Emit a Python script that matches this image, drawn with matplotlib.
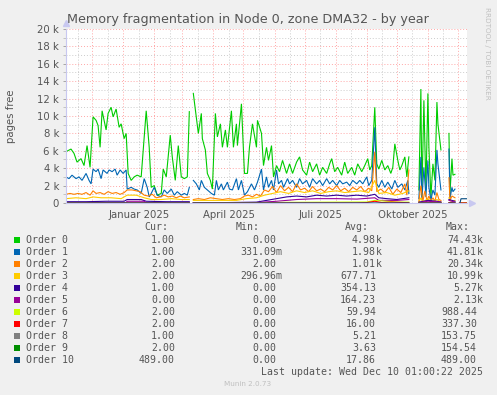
import numpy as np
import matplotlib
matplotlib.use('Agg')
import matplotlib.pyplot as plt
from matplotlib.ticker import FixedLocator, FixedFormatter

NaN = float('nan')
START = np.datetime64('2024-11-05')
SPAN = 400  # days shown

# ---------------- data (values in thousands of pages, x in days since START) ----------------
o0_days = [0,5,8,11,15,18,21,24,27,30,32,34,36,40,42,45,47,50,53,55,58,60,62,65,68,71,75,78,80,83,85,88,91,95,97,100,
           104,106,109,112,115,118,121,123,125,127,130,132,135,136,139,141,144,146,149,151,154,156,159,161,165,167,170,171,
           175,178,181,183,186,190,191,195,197,200,202,205,207,210,213,216,220,223,226,230,233,236,240,243,246,250,253,256,
           260,263,265,268,271,275,278,281,285,288,291,295,298,301,303,305,308,310,312,315,318,321,324,326,328,331,333,335,
           338,340,342,346,352,354,355,357,359,361,362,364,366,368,370,371,374,378,382,383,385,386,388,391,393,400]
o0_vals = [5.9,6.2,5.7,4.7,5.1,4.3,6.6,4.1,9.9,9.5,8.9,6.4,10.6,8.4,10.3,11.0,9.9,10.8,8.7,9.1,7.4,8.0,3.4,2.6,3.0,3.2,3.0,7.6,
           10.6,6.4,1.8,2.0,0.9,1.1,3.9,3.0,7.8,5.3,2.6,6.6,3.0,2.8,3.0,10.5,NaN,12.6,9.9,8.0,10.3,7.4,6.1,3.4,2.6,1.6,10.3,
           7.6,9.1,6.4,8.4,6.4,10.6,6.4,9.1,6.6,11.4,3.4,3.4,6.4,9.1,6.4,9.5,8.0,4.3,6.4,4.9,6.6,3.0,4.3,3.6,4.9,3.4,4.5,3.4,
           4.7,5.3,3.8,3.2,4.7,3.6,4.5,3.2,4.1,3.4,4.5,5.1,3.6,4.1,3.2,4.7,3.4,4.1,3.2,4.5,3.6,4.3,5.1,3.8,4.3,11.0,4.5,3.9,
           4.9,3.8,4.3,3.4,4.1,6.8,4.9,3.8,4.3,5.3,3.0,5.3,NaN,1.5,13.1,0.7,11.8,1.5,12.6,6.4,0.7,4.5,2.6,11.6,9.1,6.1,NaN,
           8.0,1.1,5.1,3.2,3.3,NaN,0.001,0.001]

o1_days = [0,3,6,10,13,16,20,23,25,27,30,32,35,37,41,43,46,49,51,54,57,60,61,65,68,71,75,78,81,83,85,88,91,95,98,101,105,
           108,111,115,118,121,123,125,127,130,133,135,138,141,145,148,150,152,155,157,161,163,166,170,172,175,178,181,185,
           188,191,195,197,200,202,205,207,210,212,215,217,221,223,226,230,233,236,240,243,246,250,253,256,260,263,266,270,
           273,276,280,283,286,290,293,296,300,302,305,308,310,312,315,318,321,325,328,331,335,338,341,342,346,352,354,355,
           357,359,361,362,364,366,368,370,371,374,378,382,383,385,386,388,391,393,400]
o1_vals = [3.0,2.8,3.2,2.8,3.0,2.6,3.4,2.6,2.2,3.9,3.6,3.9,2.8,3.8,3.4,3.8,3.6,3.9,3.2,3.8,3.4,3.8,1.6,1.8,1.6,1.5,1.1,2.8,
           1.8,0.7,1.1,1.8,0.9,0.7,1.5,1.1,1.6,0.9,1.3,0.9,1.1,0.9,1.8,NaN,2.6,2.2,1.5,2.6,1.8,1.5,1.1,0.9,2.6,1.5,2.2,1.5,
           2.4,1.6,1.5,2.8,1.5,2.6,0.9,1.3,2.2,1.5,2.4,3.9,1.5,3.0,1.8,2.6,1.5,3.8,2.2,2.6,1.8,2.8,2.2,2.6,1.8,2.8,2.2,2.6,
           1.8,2.8,2.2,2.6,2.0,2.8,2.2,2.6,2.0,2.6,2.2,2.4,2.0,2.6,2.2,2.6,2.2,3.0,2.0,2.6,8.7,2.2,1.8,2.6,1.8,2.4,1.6,2.6,
           1.8,2.2,1.5,2.6,1.1,NaN,0.5,5.3,0.3,4.1,0.7,4.9,1.8,0.3,1.5,0.9,6.1,4.5,1.5,NaN,6.2,0.5,1.8,1.3,1.6,NaN,0.001,
           0.001]

o2_days = [0,4,8,12,16,20,24,27,30,34,38,42,46,50,54,58,61,66,70,74,78,82,86,90,94,98,102,106,110,114,118,123,125,127,132,
           138,144,150,156,162,168,174,178,182,186,190,194,198,202,206,210,214,218,222,226,230,234,238,242,246,250,254,258,
           262,266,270,274,278,282,286,290,294,298,302,305,308,310,314,318,322,326,330,334,338,340,342,346,352,354,356,358,
           360,362,364,366,368,370,372,374,378,382,383,385,388,391,393,400]
o2_vals = [1.0,1.1,1.0,1.1,1.0,1.2,0.9,1.4,1.1,1.2,1.0,1.3,1.1,1.2,1.0,1.2,1.5,1.5,1.4,1.3,0.9,0.8,1.0,0.6,0.7,0.9,0.7,0.8,
           0.6,0.8,0.6,0.7,NaN,0.4,0.5,0.4,0.6,0.5,0.4,0.5,0.4,0.5,0.8,0.9,0.7,1.0,0.8,1.5,1.3,1.9,1.2,2.0,1.4,1.8,1.3,2.2,
           1.5,1.7,1.3,1.9,1.4,1.6,1.3,1.8,1.5,2.0,1.4,1.7,1.3,1.8,1.5,1.9,1.3,1.7,1.4,5.9,1.3,1.6,1.2,1.8,1.0,1.6,1.2,2.2,
           0.9,3.8,NaN,0.2,2.0,0.2,1.4,0.3,0.8,0.2,0.6,0.2,1.2,0.4,0.3,NaN,2.9,0.3,0.8,0.6,NaN,0.002,0.002]

o3_days = [0,10,20,27,35,45,55,61,70,78,85,95,105,115,123,125,127,140,155,170,180,190,198,206,214,222,230,238,246,254,262,
           270,278,286,294,302,308,312,320,328,336,342,346,352,354,356,361,364,370,374,378,382,384,388,391,393,400]
o3_vals = [0.5,0.6,0.5,0.7,0.6,0.6,0.5,0.9,0.9,0.6,0.4,0.4,0.5,0.4,0.4,NaN,0.3,0.3,0.3,0.3,0.5,0.6,0.9,1.1,1.3,1.1,1.4,
           1.2,1.4,1.1,1.3,1.4,1.2,1.3,1.4,1.2,2.6,1.1,1.2,0.9,1.1,1.4,NaN,0.1,0.6,0.1,0.5,0.1,0.4,0.1,NaN,0.6,0.2,0.3,
           NaN,0.002,0.002]

o4_days = [0,20,40,58,61,75,80,100,123,125,127,160,190,200,210,220,230,240,250,260,270,280,290,300,308,312,320,330,342,
           346,352,361,370,374,378,382,388,391,393,400]
o4_vals = [0.15,0.15,0.2,0.2,0.4,0.4,0.2,0.15,0.15,NaN,0.05,0.05,0.1,0.3,0.5,0.7,0.8,0.7,0.9,0.8,0.9,0.8,0.9,0.8,1.0,
           0.6,0.5,0.4,0.6,NaN,0.1,0.3,0.2,0.1,NaN,0.4,0.2,NaN,0.001,0.001]

o5_days = [0,60,61,78,80,123,125,127,190,210,230,250,270,290,308,312,330,342,346,352,361,374,378,382,388,391,393,400]
o5_vals = [0.05,0.05,0.2,0.2,0.05,0.05,NaN,0.02,0.05,0.2,0.4,0.5,0.5,0.45,0.6,0.3,0.3,0.4,NaN,0.05,0.2,0.1,NaN,0.3,0.1,
           NaN,0.0,0.0]

o6_days = [0,123,125,127,195,220,260,300,308,330,342,346,352,374,378,382,388,391,393,400]
o6_vals = [0.02,0.02,NaN,0.01,0.02,0.08,0.1,0.12,0.3,0.12,0.1,NaN,0.02,0.02,NaN,0.05,0.02,NaN,0.002,0.002]

o7_days = [0,123,125,127,290,300,308,315,325,342,346,352,374,378,382,388,391,393,400]
o7_vals = [0.01,0.01,NaN,0.0,0.01,0.05,0.2,0.05,0.1,0.03,NaN,0.01,0.01,NaN,0.05,0.01,NaN,0.002,0.002]

o8_days = [0,123,125,127,342,346,352,374,378,382,388,391,393,400]
o8_vals = [0.005,0.005,NaN,0.005,0.005,NaN,0.005,0.005,NaN,0.005,0.005,NaN,0.001,0.001]

o9_days = [0,123,125,127,342,346,352,374,378,382,388,391,393,400]
o9_vals = [0.004,0.004,NaN,0.004,0.004,NaN,0.004,0.004,NaN,0.004,0.004,NaN,0.002,0.002]

o10_days = [0,123,125,127,342,346,352,374,378,382,388,391,393,394,400]
o10_vals = [0.0,0.0,NaN,0.0,0.0,NaN,0.0,0.0,NaN,0.0,0.0,NaN,0.0,0.489,0.489]

series_names = ["Order 0","Order 1","Order 2","Order 3","Order 4","Order 5",
                "Order 6","Order 7","Order 8","Order 9","Order 10"]
series_colors = ["#00CC00","#0066B3","#FF8000","#FFCC00","#330099","#990099",
                 "#CCFF00","#FF0000","#808080","#008F00","#00487D"]
series_days = [o0_days,o1_days,o2_days,o3_days,o4_days,o5_days,o6_days,o7_days,o8_days,o9_days,o10_days]
series_vals = [o0_vals,o1_vals,o2_vals,o3_vals,o4_vals,o5_vals,o6_vals,o7_vals,o8_vals,o9_vals,o10_vals]

cur_txt = ["1.00","1.00","2.00","2.00","1.00","0.00","2.00","2.00","1.00","2.00","489.00"]
min_txt = ["0.00","331.09m","2.00","296.96m","0.00","0.00","0.00","0.00","0.00","0.00","0.00"]
avg_txt = ["4.98k","1.98k","1.01k","677.71","354.13","164.23","59.94","16.00","5.21","3.63","17.86"]
max_txt = ["74.43k","41.81k","20.34k","10.99k","5.27k","2.13k","988.44","337.30","153.75","154.54","489.00"]

y_ticks = [0,2000,4000,6000,8000,10000,12000,14000,16000,18000,20000]
y_labels = ["0","2 k","4 k","6 k","8 k","10 k","12 k","14 k","16 k","18 k","20 k"]
x_label_months = {"2025-01":"Januar 2025","2025-04":"April 2025","2025-07":"Juli 2025","2025-10":"Oktober 2025"}

title = "Memory fragmentation in Node 0, zone DMA32 - by year"
last_update = "Last update: Wed Dec 10 01:00:22 2025"

# ---------------- figure ----------------
W, H = 497, 395
fig = plt.figure(figsize=(W/100, H/100), dpi=100, facecolor="#F0F0F0")
L, R, T, B = 66, 467, 29, 203
ax = fig.add_axes([L/W, 1-B/H, (R-L)/W, (B-T)/H])
ax.set_facecolor("white")

def px(x):  # figure pixel -> fig fraction
    return x / W
def py(y):
    return 1 - y / H

for d, v, c in zip(series_days, series_vals, series_colors):
    ax.plot(np.array(d, float), np.array(v, float) * 1000, color=c, lw=0.8, solid_joinstyle='miter')

ax.set_xlim(0, SPAN)
ax.set_ylim(0, 20000)

# month gridlines
months = np.arange(np.datetime64('2024-11'), np.datetime64('2026-01'), np.timedelta64(1, 'M'))
month_start = [(m.astype('datetime64[D]') - START).astype(int) for m in months]
month_mid = [(m.astype('datetime64[D]') + np.timedelta64(15, 'D') - START).astype(int) + 0.5 for m in months]
maj = [d for d in month_start if 0 < d < SPAN]
mids = [(dm, str(m)) for dm, m in zip(month_mid, months) if 0 < dm < SPAN]
ax.xaxis.set_major_locator(FixedLocator(maj))
ax.xaxis.set_major_formatter(FixedFormatter([""] * len(maj)))
ax.xaxis.set_minor_locator(FixedLocator([d for d, _ in mids]))
ax.xaxis.set_minor_formatter(FixedFormatter([x_label_months.get(m, "") for _, m in mids]))

ax.yaxis.set_major_locator(FixedLocator(y_ticks))
ax.yaxis.set_major_formatter(FixedFormatter(y_labels))
ax.yaxis.set_minor_locator(FixedLocator(list(range(1000, 20000, 2000))))

ax.grid(True, which='major', color='#FF0000', alpha=0.35, lw=0.7, linestyle=(0, (1, 2)))
ax.grid(True, which='minor', color='#808080', alpha=0.4, lw=0.7, linestyle=(0, (1, 2)))
ax.set_axisbelow(True)

ax.tick_params(axis='x', which='both', length=0, labelsize=7.3, labelcolor='#555555', pad=5)
ax.tick_params(axis='y', which='major', length=2, width=0.6, color='#999999', labelsize=7.3,
               labelcolor='#555555', pad=3)
ax.tick_params(axis='y', which='minor', length=2, width=0.6, color='#BBBBBB')

for s in ['top', 'right']:
    ax.spines[s].set_visible(False)
for s in ['left', 'bottom']:
    ax.spines[s].set_color('#C8C8F0')
    ax.spines[s].set_linewidth(0.8)

# axis arrows
ax.plot([0], [1.035], marker='^', ms=4, color='#C8C8F0', transform=ax.transAxes, clip_on=False)
ax.plot([1.012], [0], marker='>', ms=4, color='#C8C8F0', transform=ax.transAxes, clip_on=False)

# texts
fig.text(px(248), py(19), title, ha='center', va='center', fontsize=9.2, color='#555555',
         family='DejaVu Sans')
fig.text(px(11), py(116), "pages free", rotation=90, ha='center', va='center', fontsize=7.3,
         color='#555555', family='DejaVu Sans')
fig.text(px(487), py(53), "RRDTOOL / TOBI OETIKER", rotation=270, ha='center', va='center',
         fontsize=5.2, color='#C0C0C0', family='DejaVu Sans')

mono = dict(family='DejaVu Sans Mono', fontsize=7.1, color='#555555', va='center')
CH = 6.0
hy = 227
fig.text(px(168), py(hy), "Cur:", ha='right', **mono)
fig.text(px(260), py(hy), "Min:", ha='right', **mono)
fig.text(px(369), py(hy), "Avg:", ha='right', **mono)
fig.text(px(470), py(hy), "Max:", ha='right', **mono)

def value_cell(xr, y, s):
    if s[-1].isalpha():
        num, suf = s[:-1], s[-1]
    else:
        num, suf = s, ""
    fig.text(px(xr - CH), py(y), num, ha='right', **mono)
    if suf:
        fig.text(px(xr - CH), py(y), suf, ha='left', **mono)

for i, (nm, col) in enumerate(zip(series_names, series_colors)):
    y = 240 + 12 * i
    fig.patches.append(plt.Rectangle((px(14), py(y + 3)), 6 / W, 6 / H, transform=fig.transFigure,
                                     facecolor=col, edgecolor='none'))
    fig.text(px(26), py(y), nm, ha='left', **mono)
    value_cell(181, y, cur_txt[i])
    value_cell(282, y, min_txt[i])
    value_cell(382, y, avg_txt[i])
    value_cell(483, y, max_txt[i])

fig.text(px(483), py(372), last_update, ha='right', **mono)
fig.text(px(248), py(384), "Munin 2.0.73", ha='center', va='center', fontsize=5.2,
         color='#C0C0C0', family='DejaVu Sans')

fig.savefig("out.png", dpi=100, facecolor=fig.get_facecolor())
